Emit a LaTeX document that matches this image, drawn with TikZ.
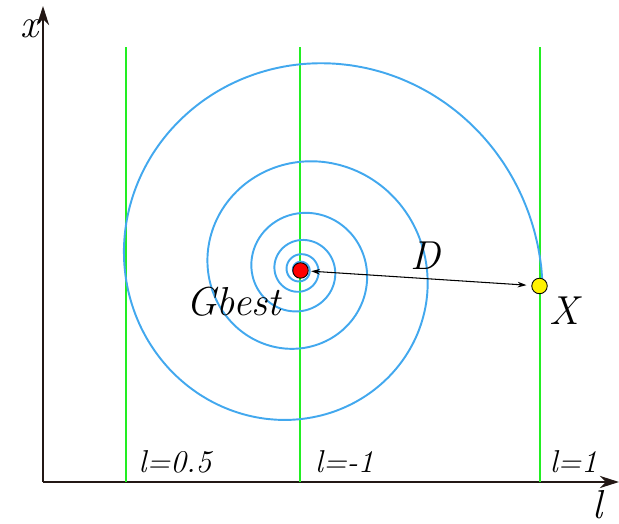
\documentclass[tikz,border=0pt]{standalone}
\usetikzlibrary{arrows.meta}
\definecolor{spiralblue}{HTML}{42A8EE}
\definecolor{linegreen}{HTML}{22EE22}
\definecolor{axisblack}{HTML}{231815}

\begin{document}
\begin{tikzpicture}[>=Stealth,x=0.02cm,y=0.02cm]
  \useasboundingbox (0,0) rectangle (619,524);
  \tikzset{
    biglabel/.style={font=\rmfamily\itshape\fontsize{23}{26}\selectfont,inner sep=0pt,anchor=base},
    lvalue/.style={font=\rmfamily\itshape\fontsize{18}{22}\selectfont,inner sep=0pt,anchor=base},
    dot/.style={circle,draw=black,line width=0.5pt,inner sep=0pt,minimum size=0.31cm},
    axisarrow/.style={line width=1.15pt,axisblack,-{Stealth[length=11pt,width=7pt]}}
  }
  % 坐标轴
  \coordinate (o) at (43,42);
  \coordinate (xtop) at (43,518);
  \coordinate (lend) at (619,42);
  \draw[axisarrow] (o) -- (xtop);
  \draw[axisarrow] (o) -- (lend);
  \node[biglabel] (xlab) at (30,486) {x};
  \node[biglabel] (llab) at (598,5) {l};
  % 绿色竖线
  \foreach \gx in {126,300,540}
    \draw[linegreen,line width=0.85pt] (\gx,42) -- (\gx,477);
  % 螺旋线
  \draw[spiralblue,line width=1.1pt] plot[domain=-3.6:2200,samples=500,smooth]
    ({300+241.5*exp(-0.0017907*\x)*cos(\x)},{254+241.5*exp(-0.0017907*\x)*sin(\x)});
  % 两个点与距离 D
  \node[dot,fill=red] (gbest) at (300.5,253.5) {};
  \node[dot,fill=yellow] (xpos) at (539.5,238) {};
  \draw[<->,line width=0.6pt,>={Stealth[length=5pt,width=3.2pt]},
    shorten <=1.4pt,shorten >=2.8pt] (gbest) -- (xpos);
  \node[biglabel] (dlab) at (425,254) {D};
  \node[biglabel] (gblab) at (233.5,208) {Gbest};
  \node[biglabel] (xplab) at (564.5,199) {X};
  % l 的取值
  \node[lvalue] (l05) at (175,51) {l=0.5};
  \node[lvalue] (lm1) at (344.5,51) {l=-1};
  \node[lvalue] (l1) at (573.5,51) {l=1};
\end{tikzpicture}
\end{document}
